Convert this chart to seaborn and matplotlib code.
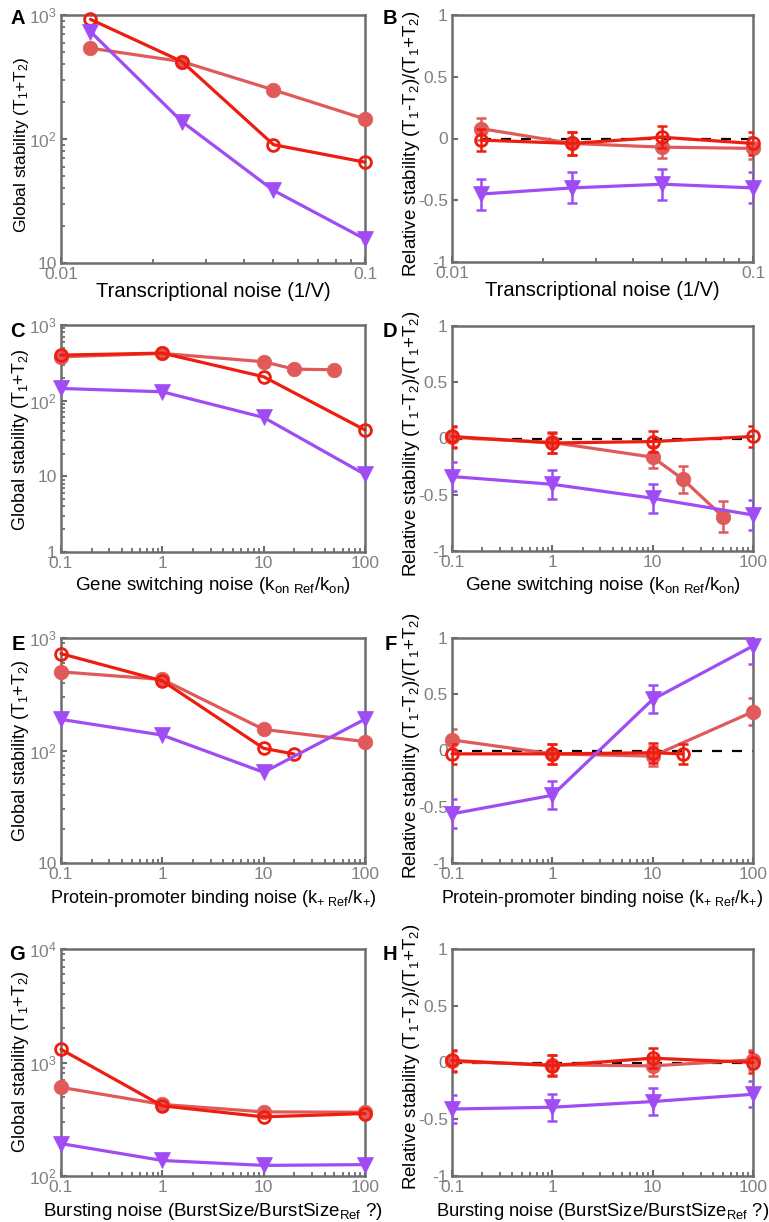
import numpy as np
import pandas as pd
import matplotlib
matplotlib.use("Agg")
import matplotlib.pyplot as plt
import seaborn as sns
from matplotlib.ticker import LogLocator, NullFormatter, FixedLocator, FixedFormatter

# ---------------- data ----------------
# Panel A / B : transcriptional noise
xA = [0.0125, 0.025, 0.05, 0.1]
A_salmon = [540, 421, 249, 145]
A_red = [923, 421, 90, 65]
A_purple = [735, 138, 38.5, 15.6]

B_salmon = [0.08, -0.04, -0.07, -0.08]
B_salmon_err = [0.09, 0.09, 0.09, 0.09]
B_red = [-0.013, -0.04, 0.01, -0.04]
B_red_err = [0.09, 0.09, 0.09, 0.09]
B_purple = [-0.45, -0.40, -0.37, -0.40]
B_purple_err = [0.125, 0.125, 0.125, 0.125]

# Panel C / D : gene switching noise
xC_salmon = [0.1, 1, 10, 20, 50]
xC = [0.1, 1, 10, 100]
C_salmon = [380, 421, 327, 261, 256]
C_red = [400, 425, 207, 41]
C_purple = [145, 131, 60, 10.6]

D_salmon = [0.01, -0.035, -0.166, -0.362, -0.694]
D_salmon_err = [0.09, 0.09, 0.10, 0.12, 0.14]
D_red = [0.018, -0.04, -0.027, 0.018]
D_red_err = [0.09, 0.09, 0.09, 0.09]
D_purple = [-0.338, -0.407, -0.531, -0.68]
D_purple_err = [0.13, 0.13, 0.13, 0.13]

# Panel E / F : protein-promoter binding noise
xE = [0.1, 1, 10, 100]
xE_red = [0.1, 1, 10, 20]
E_salmon = [500, 428, 154, 120]
E_red = [726, 416, 104.5, 93]
E_purple = [189, 137, 64, 190]

F_salmon = [0.094, -0.03, -0.05, 0.345]
F_salmon_err = [0.10, 0.09, 0.09, 0.12]
F_red = [-0.03, -0.03, -0.02, -0.03]
F_red_err = [0.09, 0.09, 0.09, 0.09]
F_purple = [-0.563, -0.398, 0.454, 0.929]
F_purple_err = [0.13, 0.125, 0.125, 0.16]

# Panel G / H : bursting noise
xG = [0.1, 1, 10, 100]
G_salmon = [604, 427, 367, 365]
G_red = [1306, 415, 332, 355]
G_purple = [193, 137, 124, 126]

H_salmon = [0.01, -0.02, -0.03, 0.024]
H_salmon_err = [0.09, 0.09, 0.09, 0.09]
H_red = [0.018, -0.027, 0.038, 0.0]
H_red_err = [0.09, 0.09, 0.09, 0.09]
H_purple = [-0.41, -0.394, -0.344, -0.28]
H_purple_err = [0.12, 0.12, 0.12, 0.115]

# ---------------- style ----------------
sns.set_theme(style="white")
plt.rcParams["font.family"] = ["Liberation Sans", "DejaVu Sans"]
plt.rcParams["mathtext.default"] = "regular"
plt.rcParams["axes.unicode_minus"] = False

SALMON = "#E05A5A"
RED = "#EE1D0F"
PURPLE = "#A04CF5"
SPINE = "#6d6d6d"
TICKC = "#808080"

styles = {
    "salmon": dict(color=SALMON, marker="o", markersize=10.5, markerfacecolor=SALMON,
                   markeredgecolor=SALMON, markeredgewidth=0.5, linewidth=2.3, zorder=3),
    "red": dict(color=RED, marker="o", markersize=8.5, markerfacecolor="none",
                markeredgecolor=RED, markeredgewidth=2.0, linewidth=2.3, zorder=4),
    "purple": dict(color=PURPLE, marker="v", markersize=11, markerfacecolor=PURPLE,
                   markeredgecolor=PURPLE, markeredgewidth=0.5, linewidth=2.3, zorder=5),
}

W, H = 769, 1222
fig = plt.figure(figsize=(W / 100, H / 100), dpi=100)


def make_ax(left, right, top, bottom):
    return fig.add_axes([left / W, 1 - bottom / H, (right - left) / W, (bottom - top) / H])


def style_axes(ax, xlim, ylim, logy, yticks, yticklabels, xticks, xticklabels):
    ax.set_xscale("log")
    if logy:
        ax.set_yscale("log")
    ax.set_xlim(*xlim)
    ax.set_ylim(*ylim)
    ax.xaxis.set_major_locator(FixedLocator(xticks))
    ax.xaxis.set_major_formatter(FixedFormatter(xticklabels))
    ax.xaxis.set_minor_locator(LogLocator(base=10, subs=np.arange(2, 10), numticks=20))
    ax.xaxis.set_minor_formatter(NullFormatter())
    ax.yaxis.set_major_locator(FixedLocator(yticks))
    ax.yaxis.set_major_formatter(FixedFormatter(yticklabels))
    if logy:
        ax.yaxis.set_minor_locator(LogLocator(base=10, subs=np.arange(2, 10), numticks=20))
        ax.yaxis.set_minor_formatter(NullFormatter())
    else:
        ax.yaxis.set_minor_locator(FixedLocator([]))
    for s in ax.spines.values():
        s.set_color(SPINE)
        s.set_linewidth(1.8)
        s.set_visible(True)
    ax.tick_params(axis="both", which="both", direction="in", colors=SPINE,
                   labelcolor=TICKC, labelsize=12.5, top=False, right=False,
                   bottom=True, left=True)
    ax.tick_params(which="major", length=4.5, width=1.5, pad=3)
    ax.tick_params(which="minor", length=2.8, width=1.3)
    ax.grid(False)
    ax.set_facecolor("white")


def draw_series(ax, x, y, key, err=None):
    st = styles[key]
    df = pd.DataFrame({"x": x, "y": y})
    sns.lineplot(data=df, x="x", y="y", ax=ax, estimator=None, sort=False,
                 clip_on=False, **st)
    if err is not None:
        ax.errorbar(x, y, yerr=err, fmt="none", ecolor=st["color"], elinewidth=1.8,
                    capsize=3.5, capthick=1.8, zorder=st["zorder"] - 0.5)


def zero_line(ax, xlim):
    ax.plot(list(xlim), [0, 0], color="black", linestyle=(0, (4.5, 4.5)),
            linewidth=1.6, zorder=2)


def finish(ax, xlabel, ylabel, xl_y, yl_y, xsize, ysize):
    ax.set_xlabel(xlabel, fontsize=xsize, color="black")
    ax.set_ylabel(ylabel, fontsize=ysize, color="black")
    ax.xaxis.set_label_coords(0.5, xl_y)
    ax.yaxis.set_label_coords(-0.10, yl_y)


YL_G = "Global stability (T$_1$+T$_2$)"
YL_R = "Relative stability (T$_1$-T$_2$)/(T$_1$+T$_2$)"
rel_ticks = [-1, -0.5, 0, 0.5, 1]
rel_labels = ["-1", "-0.5", "0", "0.5", "1"]

# ---------- Panel A ----------
axA = make_ax(61, 365, 15, 263)
draw_series(axA, xA, A_salmon, "salmon")
draw_series(axA, xA, A_red, "red")
draw_series(axA, xA, A_purple, "purple")
style_axes(axA, (0.01, 0.1), (10, 1000), True, [10, 100, 1000],
           ["10", "10$^2$", "10$^3$"], [0.01, 0.1], ["0.01", "0.1"])
finish(axA, "Transcriptional noise (1/V)", YL_G, -0.075, 0.476, 14.5, 12.5)

# ---------- Panel B ----------
axB = make_ax(452, 753, 15, 262)
zero_line(axB, (0.0125, 0.1))
draw_series(axB, xA, B_salmon, "salmon", B_salmon_err)
draw_series(axB, xA, B_red, "red", B_red_err)
draw_series(axB, xA, B_purple, "purple", B_purple_err)
style_axes(axB, (0.01, 0.1), (-1, 1), False, rel_ticks, rel_labels,
           [0.01, 0.1], ["0.01", "0.1"])
finish(axB, "Transcriptional noise (1/V)", YL_R, -0.075, 0.478, 14.5, 13.5)

# ---------- Panel C ----------
axC = make_ax(61, 365, 325, 552)
draw_series(axC, xC_salmon, C_salmon, "salmon")
draw_series(axC, xC, C_red, "red")
draw_series(axC, xC, C_purple, "purple")
style_axes(axC, (0.1, 100), (1, 1000), True, [1, 10, 100, 1000],
           ["1", "10", "10$^2$", "10$^3$"], [0.1, 1, 10, 100], ["0.1", "1", "10", "100"])
finish(axC, "Gene switching noise (k$_{on\\ Ref}$/k$_{on}$)", YL_G, -0.1, 0.493, 13.5, 13)

# ---------- Panel D ----------
axD = make_ax(452, 753, 326, 551)
zero_line(axD, (0.1, 100))
draw_series(axD, xC_salmon, D_salmon, "salmon", D_salmon_err)
draw_series(axD, xC, D_red, "red", D_red_err)
draw_series(axD, xC, D_purple, "purple", D_purple_err)
style_axes(axD, (0.1, 100), (-1, 1), False, rel_ticks, rel_labels,
           [0.1, 1, 10, 100], ["0.1", "1", "10", "100"])
finish(axD, "Gene switching noise (k$_{on\\ Ref}$/k$_{on}$)", YL_R, -0.105, 0.476, 13.5, 13.5)

# ---------- Panel E ----------
axE = make_ax(61, 365, 638, 863)
draw_series(axE, xE, E_salmon, "salmon")
draw_series(axE, xE_red, E_red, "red")
draw_series(axE, xE, E_purple, "purple")
style_axes(axE, (0.1, 100), (10, 1000), True, [10, 100, 1000],
           ["10", "10$^2$", "10$^3$"], [0.1, 1, 10, 100], ["0.1", "1", "10", "100"])
finish(axE, "Protein-promoter binding noise (k$_{+\\ Ref}$/k$_{+}$)", YL_G, -0.11, 0.498, 13, 13)

# ---------- Panel F ----------
axF = make_ax(452, 753, 638, 863)
zero_line(axF, (0.1, 100))
draw_series(axF, xE, F_salmon, "salmon", F_salmon_err)
draw_series(axF, xE_red, F_red, "red", F_red_err)
draw_series(axF, xE, F_purple, "purple", F_purple_err)
style_axes(axF, (0.1, 100), (-1, 1), False, rel_ticks, rel_labels,
           [0.1, 1, 10, 100], ["0.1", "1", "10", "100"])
finish(axF, "Protein-promoter binding noise (k$_{+\\ Ref}$/k$_{+}$)", YL_R, -0.11, 0.52, 12.8, 13.5)

# ---------- Panel G ----------
axG = make_ax(61, 365, 949, 1176)
draw_series(axG, xG, G_salmon, "salmon")
draw_series(axG, xG, G_red, "red")
draw_series(axG, xG, G_purple, "purple")
style_axes(axG, (0.1, 100), (100, 10000), True, [100, 1000, 10000],
           ["10$^2$", "10$^3$", "10$^4$"], [0.1, 1, 10, 100], ["0.1", "1", "10", "100"])
finish(axG, "Bursting noise (BurstSize/BurstSize$_{Ref}$ ?)", YL_G, -0.11, 0.502, 13.5, 13)

# ---------- Panel H ----------
axH = make_ax(452, 753, 949, 1176)
zero_line(axH, (0.1, 100))
draw_series(axH, xG, H_salmon, "salmon", H_salmon_err)
draw_series(axH, xG, H_red, "red", H_red_err)
draw_series(axH, xG, H_purple, "purple", H_purple_err)
style_axes(axH, (0.1, 100), (-1, 1), False, rel_ticks, rel_labels,
           [0.1, 1, 10, 100], ["0.1", "1", "10", "100"])
finish(axH, "Bursting noise (BurstSize/BurstSize$_{Ref}$ ?)", YL_R, -0.11, 0.524, 13.2, 13.5)

for ax in [axA, axB, axC, axD, axE, axF, axG, axH]:
    leg = ax.get_legend()
    if leg is not None:
        leg.remove()

# panel letters
letters = [("A", 25, 24), ("B", 397, 24), ("C", 25, 337), ("D", 397, 337),
           ("E", 25, 650), ("F", 397, 650), ("G", 25, 960), ("H", 397, 960)]
for lab, xp, yp in letters:
    fig.text(xp / W, 1 - yp / H, lab, fontsize=14.5, fontweight="bold",
             ha="right", va="baseline", color="black")

fig.savefig("out.png", dpi=100, facecolor="white")
